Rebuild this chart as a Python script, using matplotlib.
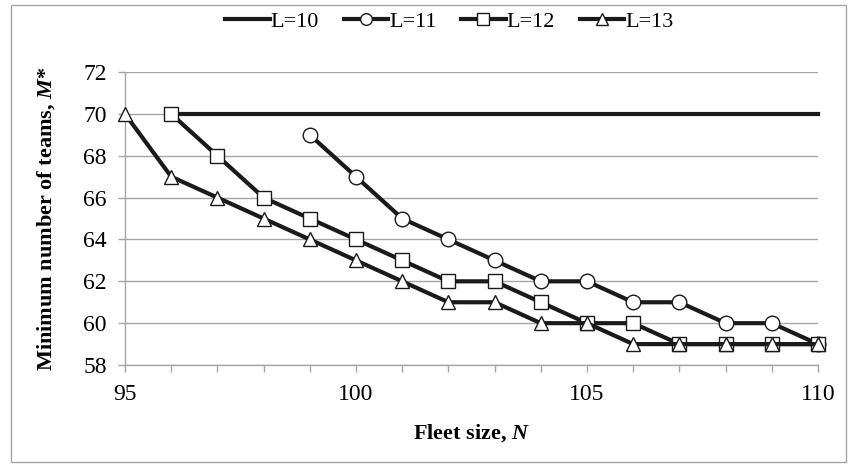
import numpy as np
import matplotlib.pyplot as plt
from matplotlib.patches import Rectangle
from matplotlib.ticker import MultipleLocator

plt.rcParams['font.family'] = ['Liberation Serif', 'DejaVu Serif']
plt.rcParams['mathtext.fontset'] = 'custom'
plt.rcParams['mathtext.bfit'] = 'Liberation Serif:italic:bold'
plt.rcParams['mathtext.it'] = 'Liberation Serif:italic'
plt.rcParams['mathtext.rm'] = 'Liberation Serif'

# data
n10 = [96, 97, 98, 99, 100, 101, 102, 103, 104, 105, 106, 107, 108, 109, 110]
m10 = [70] * 15
n11 = [99, 100, 101, 102, 103, 104, 105, 106, 107, 108, 109, 110]
m11 = [69, 67, 65, 64, 63, 62, 62, 61, 61, 60, 60, 59]
n12 = [96, 97, 98, 99, 100, 101, 102, 103, 104, 105, 106, 107, 108, 109, 110]
m12 = [70, 68, 66, 65, 64, 63, 62, 62, 61, 60, 60, 59, 59, 59, 59]
n13 = [95, 96, 97, 98, 99, 100, 101, 102, 103, 104, 105, 106, 107, 108, 109, 110]
m13 = [70, 67, 66, 65, 64, 63, 62, 61, 61, 60, 60, 59, 59, 59, 59, 59]

fig = plt.figure(figsize=(8.52, 4.65), dpi=100)
ax = fig.add_axes([125 / 852, 0.215, (818 - 125) / 852, 0.630])

# outer frame
fig.patches.append(Rectangle((11 / 852, 3 / 465), 835 / 852, 457 / 465,
                             transform=fig.transFigure, fill=False,
                             edgecolor='#a6a6a6', lw=1.0))

lw = 3.0
mk = dict(markersize=10.5, markerfacecolor='white', markeredgecolor='#1a1a1a',
          markeredgewidth=1.0, clip_on=False)
ax.plot(n10, m10, color='#1a1a1a', lw=lw, label='L=10', zorder=3, clip_on=False)
ax.plot(n11, m11, color='#1a1a1a', lw=lw, marker='o', label='L=11', zorder=3, **mk)
ax.plot(n12, m12, color='#1a1a1a', lw=lw, marker='s', label='L=12', zorder=3, **mk)
ax.plot(n13, m13, color='#1a1a1a', lw=lw, marker='^', label='L=13', zorder=3, **mk)

ax.set_xlim(95, 110)
ax.set_ylim(58, 72)
ax.xaxis.set_major_locator(MultipleLocator(5))
ax.xaxis.set_minor_locator(MultipleLocator(1))
ax.yaxis.set_major_locator(MultipleLocator(2))
ax.grid(axis='y', color='#a6a6a6', lw=1.0, zorder=0)
ax.set_axisbelow(True)

for s in ['top', 'right']:
    ax.spines[s].set_visible(False)
for s in ['left', 'bottom']:
    ax.spines[s].set_color('#a6a6a6')
    ax.spines[s].set_linewidth(1.0)
ax.tick_params(axis='both', which='both', color='#a6a6a6', width=1.0,
               labelsize=17, direction='out')
ax.tick_params(axis='x', which='major', length=5, pad=9)
ax.tick_params(axis='x', which='minor', length=5)
ax.tick_params(axis='y', length=5, pad=8)

ax.set_xlabel('Fleet size, $\\mathbfit{N}$', fontsize=16, fontweight='bold', labelpad=12)
ax.set_ylabel('Minimum number of teams, $\\mathbfit{M}$*', fontsize=16,
              fontweight='bold', labelpad=19)

leg = ax.legend(loc='center', bbox_to_anchor=(0.468, 1.171), ncol=4, frameon=False,
                fontsize=16, handlelength=2.0, handletextpad=0.05, columnspacing=1.1,
                markerscale=0.8)

fig.savefig('out.png', dpi=100)
